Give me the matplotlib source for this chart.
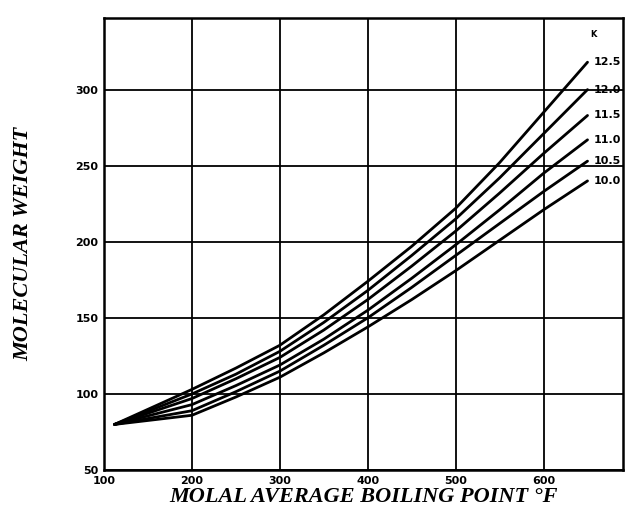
import numpy as np
import matplotlib.pyplot as plt

# molal average boiling point, deg F
temp = [112, 200, 250, 300, 350, 400, 450, 500, 550, 600, 650]
# molecular weight for each characterization factor K
mw_125 = [80, 103, 117, 132, 152, 174, 197, 222, 252, 285, 318]
mw_120 = [80, 100, 113, 128, 147, 168, 191, 215, 242, 271, 300]
mw_115 = [80, 97, 110, 124, 142, 162, 184, 207, 232, 258, 283]
mw_110 = [80, 93, 105.5, 119, 136, 155, 176, 198, 221, 245, 267]
mw_105 = [80, 89, 101.5, 115, 132, 150, 170, 191, 212, 233, 253]
mw_100 = [80, 86, 98, 111, 127, 144, 162, 181, 201, 221, 240]
k_labels = ['12.5', '12.0', '11.5', '11.0', '10.5', '10.0']

x_ticks = [100, 200, 300, 400, 500, 600]
y_ticks = [50, 100, 150, 200, 250, 300]

fig = plt.figure(figsize=(6.38, 5.16), dpi=100)
ax = fig.add_axes([0.163, 0.089, 0.813, 0.876])

series = [mw_125, mw_120, mw_115, mw_110, mw_105, mw_100]
for mw, lab in zip(series, k_labels):
    ax.plot(temp, mw, color='black', lw=2.0, solid_capstyle='round')
    ax.text(temp[-1] + 7, mw[-1], lab, fontsize=8, fontweight='bold',
            va='center', ha='left', family='DejaVu Sans')
ax.text(temp[-1] + 3, mw_125[-1] + 18, 'K', fontsize=6, fontweight='bold',
        va='center', ha='left')

ax.set_xlim(100, 690)
ax.set_ylim(50, 347)
ax.set_xticks(x_ticks)
ax.set_yticks(y_ticks)
ax.grid(True, color='black', lw=1.3)
ax.set_axisbelow(True)
ax.tick_params(length=0, labelsize=8, pad=4)
for t in ax.get_xticklabels() + ax.get_yticklabels():
    t.set_fontweight('bold')
for s in ax.spines.values():
    s.set_linewidth(1.8)

ax.set_xlabel('MOLAL AVERAGE BOILING POINT °F', family='Liberation Serif',
              style='italic', fontweight='bold', fontsize=16, labelpad=1)
ax.set_ylabel('MOLECULAR WEIGHT', family='Liberation Serif',
              style='italic', fontweight='bold', fontsize=16, labelpad=30)

fig.savefig('out.png', dpi=100)
